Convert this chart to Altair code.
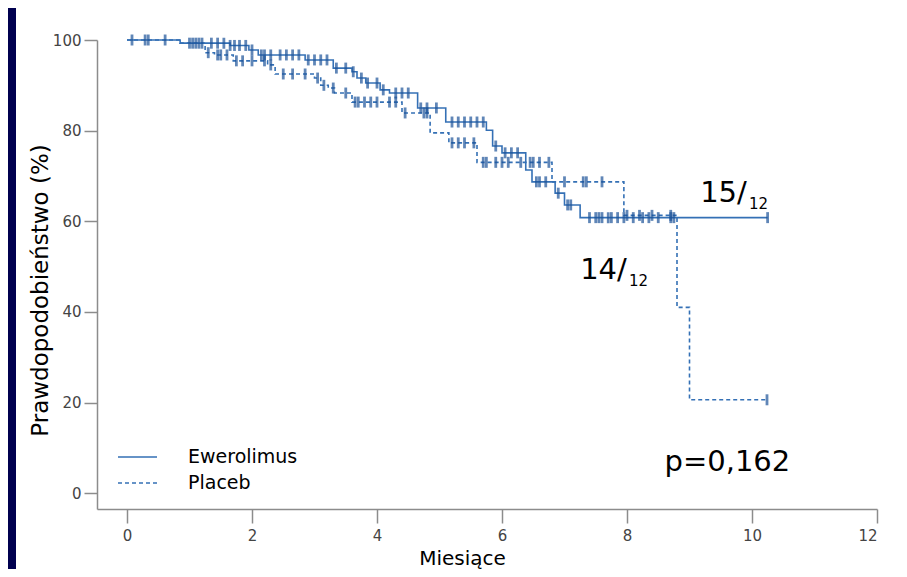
import altair as alt
import pandas as pd

# Kaplan-Meier step data (months, survival %)
ewe_t = [0, 0.85, 1.65, 1.95, 2.1, 2.85, 3.3, 3.6, 3.68, 3.82, 4.05, 4.2, 4.65, 5.1,
         5.75, 5.85, 6.0, 6.38, 6.48, 6.85, 7.0, 7.25, 10.25]
ewe_s = [100, 99.3, 98.8, 97.8, 96.7, 95.6, 93.8, 93.0, 91.6, 90.5, 89.0, 88.3, 85.0, 81.9,
         80.1, 76.6, 75.1, 71.3, 68.7, 66.2, 63.6, 60.8, 60.8]

pla_t = [0, 0.85, 1.25, 1.4, 1.7, 2.25, 2.37, 3.0, 3.1, 3.22, 3.32, 3.6, 4.4, 4.85,
         5.15, 5.6, 6.8, 7.95, 8.8, 9.0, 10.24]
pla_s = [100, 99.3, 97.2, 96.7, 95.4, 94.5, 92.5, 91.6, 90.0, 89.4, 88.3, 86.3, 83.9, 79.5,
         77.3, 73.0, 68.7, 61.3, 41.0, 20.6, 20.6]

# censoring times
ewe_cens = [0.08, 0.29, 0.34, 0.61, 1.0, 1.1, 1.2, 1.35, 1.45, 1.55, 1.65, 1.72, 1.8, 1.9,
            2.0, 2.15, 2.2, 2.3, 2.45, 2.55, 2.65, 2.75, 2.9, 3.0, 3.1, 3.2, 3.35, 3.5,
            3.62, 3.75, 3.85, 4.0, 4.1, 4.3, 4.4, 4.5, 4.7, 4.8, 4.95, 5.2, 5.3, 5.4,
            5.5, 5.6, 5.7, 5.9, 6.05, 6.15, 6.25, 6.55, 6.6, 6.7, 6.9, 7.05, 7.1, 7.4,
            7.5, 7.55, 7.6, 7.7, 7.75, 7.85, 7.95, 8.1, 8.25, 8.35, 8.5, 8.7, 8.75, 10.25]
pla_cens = [1.05, 1.15, 1.3, 1.45, 1.5, 1.6, 1.75, 1.85, 2.0, 2.2, 2.3, 2.5, 2.65, 2.85,
            3.05, 3.15, 3.3, 3.5, 3.65, 3.7, 3.8, 3.9, 4.0, 4.2, 4.3, 4.45, 4.75, 4.8,
            5.2, 5.3, 5.4, 5.55, 5.7, 5.75, 5.9, 6.0, 6.1, 6.3, 6.45, 6.5, 6.6, 6.75,
            7.0, 7.3, 7.35, 7.6, 8.0, 8.2, 8.4, 8.7, 10.24]

arms = ["Ewerolimus", "Placeb"]
x_ticks = [0, 2, 4, 6, 8, 10, 12]
y_ticks = [0, 20, 40, 60, 80, 100]

ann_big_text = ["15/", "14/", "p=0,162"]
ann_big_x = [9.17, 7.25, 8.6]
ann_big_y = [64.3, 47.3, 4.8]
ann_small_text = ["12", "12"]
ann_small_x = [9.95, 8.03]
ann_small_y = [62.8, 45.8]


def step_at(ts, ss, t):
    v = ss[0]
    for ti, si in zip(ts, ss):
        if ti <= t:
            v = si
    return v


lines = pd.DataFrame(
    [{"t": t, "s": s, "arm": arms[0]} for t, s in zip(ewe_t, ewe_s)]
    + [{"t": t, "s": s, "arm": arms[1]} for t, s in zip(pla_t, pla_s)]
)
cens = pd.DataFrame(
    [{"t": t, "s": step_at(ewe_t, ewe_s, t), "arm": arms[0]} for t in ewe_cens]
    + [{"t": t, "s": step_at(pla_t, pla_s, t), "arm": arms[1]} for t in pla_cens]
)
ann_big = pd.DataFrame({"t": ann_big_x, "s": ann_big_y, "txt": ann_big_text})
ann_small = pd.DataFrame({"t": ann_small_x, "s": ann_small_y, "txt": ann_small_text})

FONT = "DejaVu Sans"
LINE = "#3470b5"
TICK = "#1d5399"

xs = alt.Scale(domain=[-0.48, 12], nice=False, zero=False)
ys = alt.Scale(domain=[-3.5, 100], nice=False, zero=False)

x_enc = alt.X("t:Q", scale=xs, axis=alt.Axis(
    values=x_ticks, format="d", title="Miesiące", grid=False, tickSize=14, labelPadding=5,
    labelFont=FONT, labelFontSize=15, labelColor="#444444",
    titleFont=FONT, titleFontSize=20, titleFontWeight="normal", titleColor="#000000",
    titleX=365, titleY=55, titleBaseline="alphabetic", titleAlign="center",
    domainColor="#8c8c8c", tickColor="#8c8c8c", domainWidth=1.5, tickWidth=1.5))
y_enc = alt.Y("s:Q", scale=ys, axis=alt.Axis(
    values=y_ticks, format="d", title="Prawdopodobieństwo (%)", grid=False, tickSize=13, labelPadding=3,
    labelFont=FONT, labelFontSize=15, labelColor="#444444",
    titleFont=FONT, titleFontSize=23, titleFontWeight="normal", titleColor="#000000",
    titleX=-57, titleY=250, titleBaseline="middle", titleAlign="center", titleAngle=-90,
    domainColor="#8c8c8c", tickColor="#8c8c8c", domainWidth=1.5, tickWidth=1.5))

dash = alt.StrokeDash("arm:N", scale=alt.Scale(domain=arms, range=[[1, 0], [4, 3]]),
                      legend=alt.Legend(title=None, orient="none", legendX=20, legendY=406,
                                        symbolType="stroke", symbolSize=1521,
                                        symbolStrokeWidth=1.5, symbolStrokeColor=LINE,
                                        labelFont=FONT, labelFontSize=19, labelColor="#000000",
                                        labelOffset=30, rowPadding=4, clipHeight=22))

line_layer = alt.Chart(lines).mark_line(interpolate="step-after", color=LINE, strokeWidth=1.6).encode(
    x=x_enc, y=y_enc, strokeDash=dash, order="t:Q")

tick_layer = alt.Chart(cens).mark_tick(orient="vertical", color=TICK, size=11, thickness=2.8).encode(
    x="t:Q", y="s:Q")

big_text = alt.Chart(ann_big).mark_text(font=FONT, fontSize=29, align="left", baseline="alphabetic",
                                        color="#000000").encode(x="t:Q", y="s:Q", text="txt:N")
small_text = alt.Chart(ann_small).mark_text(font=FONT, fontSize=15, align="left", baseline="alphabetic",
                                            color="#000000").encode(x="t:Q", y="s:Q", text="txt:N")

strip = alt.Chart(pd.DataFrame({"a": [0]})).mark_rect(color="#00004f").encode(
    x=alt.value(-89), x2=alt.value(-81), y=alt.value(-32), y2=alt.value(529))

chart = alt.layer(strip, line_layer, tick_layer, big_text, small_text).properties(
    width=780, height=469,
    padding={"left": 89, "top": 32, "right": 14, "bottom": 60},
    autosize=alt.AutoSizeParams(type="none"),
    background="#ffffff",
).configure_view(stroke=None)

chart.save("out.html", embed_options={"renderer": "svg", "actions": False})
